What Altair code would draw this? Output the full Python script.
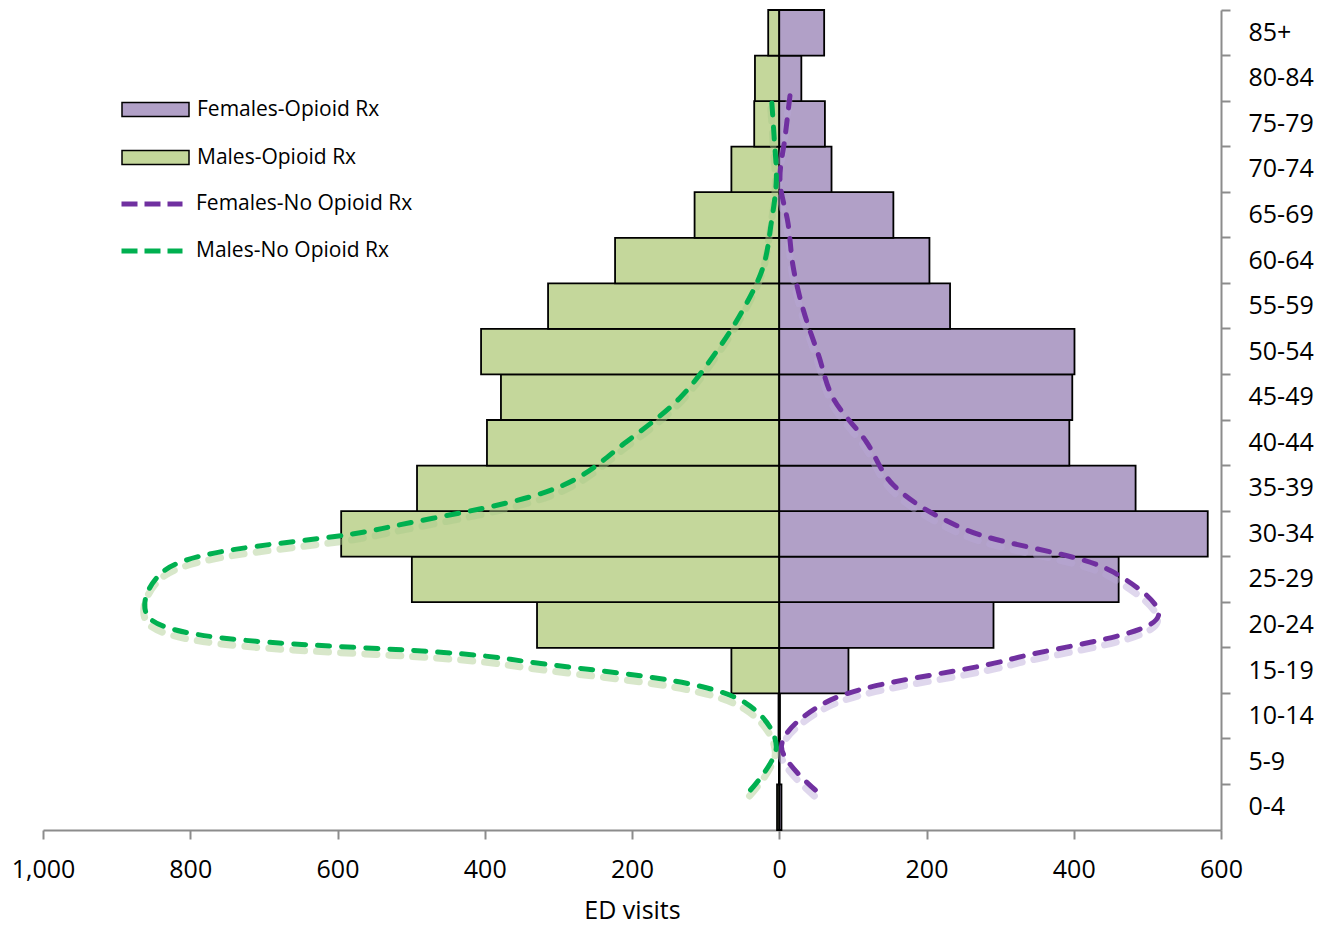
import altair as alt
import pandas as pd

# ---------------- data ----------------
ages = ["0-4", "5-9", "10-14", "15-19", "20-24", "25-29", "30-34", "35-39", "40-44",
        "45-49", "50-54", "55-59", "60-64", "65-69", "70-74", "75-79", "80-84", "85+"]
females_rx = [3, 0.5, 1, 94, 291, 461, 582, 484, 394, 398, 401, 232, 204, 155, 71, 62, 30, 61]
males_rx = [3, 0.5, 1, 65, 329, 499, 595, 492, 397, 378, 405, 314, 223, 115, 65, 34, 33, 15]

line_ages = ages[:17]
females_no_rx = [49, 3, 62, 314, 515, 454, 250, 155, 118, 73, 53, 33, 19, 12, 1, 8, 15]
males_no_rx = [39, 4, 46, 365, 858, 838, 540, 293, 207, 135, 88, 50, 22, 11, 4, 7, 11]

x_ticks = [-1000, -800, -600, -400, -200, 0, 200, 400, 600]

bar_series = ["Females-Opioid Rx", "Males-Opioid Rx"]
bar_colors = ["#B1A0C7", "#C4D79B"]
line_series = ["Females-No Opioid Rx", "Males-No Opioid Rx"]
line_colors = ["#7030A0", "#00B050"]
shadow_colors = ["#B9A6D6", "#A9C98A"]

FONT = "Open Sans"
GRAY = "#8C8C8C"

# ---------------- tables ----------------
fem_df = pd.DataFrame({"age": ages, "v": females_rx, "series": bar_series[0]})
male_df = pd.DataFrame({"age": ages, "v": [-m for m in males_rx], "series": bar_series[1]})
line_df = pd.concat([
    pd.DataFrame({"age": line_ages, "idx": list(range(len(line_ages))),
                  "v": females_no_rx, "series": line_series[0]}),
    pd.DataFrame({"age": line_ages, "idx": list(range(len(line_ages))),
                  "v": [-m for m in males_no_rx], "series": line_series[1]}),
], ignore_index=True)

# ---------------- scales / axes ----------------
x_axis = alt.Axis(values=x_ticks, labelExpr="format(abs(datum.value), ',')", grid=False,
                  domainColor=GRAY, domainWidth=2, tickColor=GRAY, tickWidth=2, tickSize=9,
                  labelFont=FONT, labelFontSize=25, labelColor="black", labelPadding=18,
                  labelFlush=False, labelOverlap=False,
                  titleFont=FONT, titleFontSize=25, titleFontWeight="normal",
                  titleColor="black", titlePadding=16)
x_scale = alt.Scale(domain=[-1000, 600], nice=False, zero=False)


def xenc():
    return alt.X("v:Q", scale=x_scale, axis=x_axis, title="ED visits")


age_order = list(reversed(ages))
y_scale = alt.Scale(domain=age_order, paddingInner=0, paddingOuter=0)

y_label_axis = alt.Axis(orient="right", domain=False, ticks=False, tickSize=0, grid=False,
                        labelPadding=27, labelFont=FONT, labelFontSize=25,
                        labelColor="black", title=None, labelAlign="left")
y_tick_axis = alt.Axis(orient="right", labels=False, domain=True, domainColor=GRAY,
                       domainWidth=2, ticks=True, tickColor=GRAY, tickWidth=2, tickSize=9,
                       bandPosition=0, grid=False, title=None)

fill_legend = alt.Legend(title=None, orient="none", legendX=78, legendY=65,
                         symbolType="M-1,-0.21H1V0.21H-1Z", symbolSize=4489,
                         symbolStrokeColor="black", symbolStrokeWidth=1.5, symbolOpacity=1,
                         labelFont=FONT, labelFontSize=21, labelColor="black",
                         labelOffset=7, labelLimit=400, rowPadding=3)
fill_scale = alt.Scale(domain=bar_series, range=bar_colors)

stroke_legend = alt.Legend(title=None, orient="none", legendX=76, legendY=161,
                           symbolType="stroke", symbolSize=3721, symbolStrokeWidth=5,
                           symbolDash=[16, 7], labelFont=FONT, labelFontSize=21,
                           labelColor="black", labelOffset=11, labelLimit=400, rowPadding=4)
stroke_scale = alt.Scale(domain=line_series, range=line_colors)

line_y = alt.Y("idx:Q", scale=alt.Scale(domain=[-40 / 43.5625, 780 / 43.5625], nice=False,
                                          zero=False), axis=None)

# ---------------- layers ----------------
fem_bars = alt.Chart(fem_df).mark_bar(stroke="black", strokeWidth=1.8, opacity=1).encode(
    x=xenc(),
    y=alt.Y("age:N", scale=y_scale, axis=y_label_axis, sort=age_order),
    fill=alt.Fill("series:N", scale=fill_scale, legend=fill_legend),
)
male_bars = alt.Chart(male_df).mark_bar(stroke="black", strokeWidth=1.8, opacity=1).encode(
    x=xenc(),
    y=alt.Y("age:N", scale=y_scale, axis=y_tick_axis, sort=age_order),
    fill=alt.Fill("series:N", scale=fill_scale, legend=fill_legend),
)

shadows = []
for s, c in zip(line_series, shadow_colors):
    shadows.append(
        alt.Chart(line_df).transform_filter(alt.datum.series == s).mark_line(
            interpolate="catmull-rom", strokeDash=[12, 12], strokeCap="round",
            strokeWidth=7, opacity=0.45, yOffset=6, xOffset=-1
        ).encode(x=xenc(), y=line_y, order=alt.Order("idx:Q"), stroke=alt.value(c))
    )

lines = alt.Chart(line_df).mark_line(
    interpolate="catmull-rom", strokeDash=[12, 12], strokeCap="round", strokeWidth=5
).encode(
    x=xenc(),
    y=line_y,
    order=alt.Order("idx:Q"),
    detail="series:N",
    stroke=alt.Stroke("series:N", scale=stroke_scale, legend=stroke_legend),
)

chart = alt.layer(male_bars, fem_bars, *shadows, lines).resolve_scale(
    y="independent"
).resolve_axis(y="independent").properties(
    width=1178, height=820,
    autosize=alt.AutoSizeParams(type="none"),
    padding={"left": 43, "top": 10, "right": 107, "bottom": 96},
    background="white",
).configure_view(stroke=None)

chart.save("out.html", embed_options={"renderer": "svg", "actions": False})
